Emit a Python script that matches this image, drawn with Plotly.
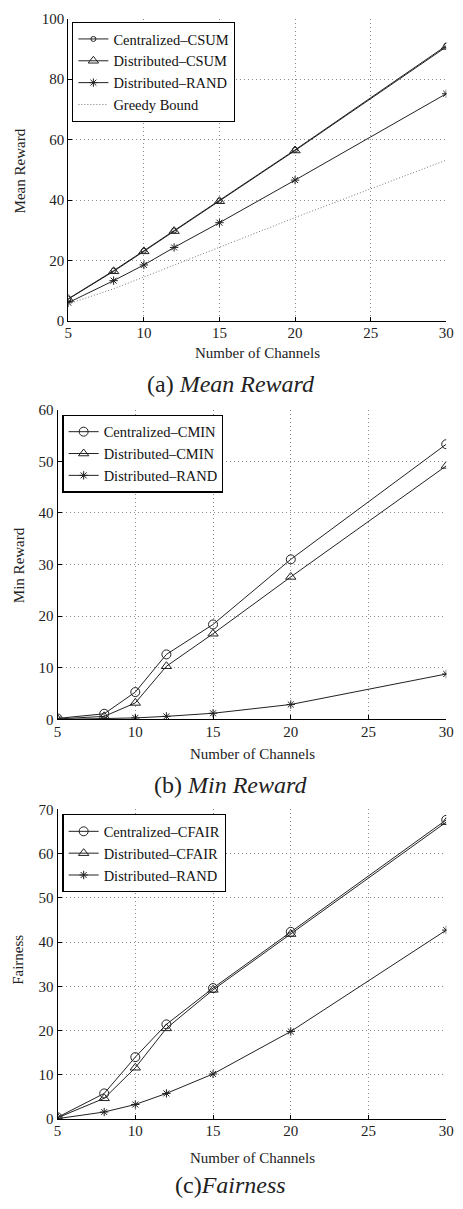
import plotly.graph_objects as go

W, H = 463, 1209

channels = [5, 8, 10, 12, 15, 20, 30]

# (a) Mean reward
mean_central_csum = [7.3, 16.6, 23.2, 29.9, 39.8, 56.6, 91.1]
mean_dist_csum = [7.2, 16.4, 23.0, 29.7, 39.6, 56.4, 90.7]
mean_dist_rand = [6.0, 13.3, 18.5, 24.3, 32.5, 46.6, 75.2]
mean_greedy = [5.6, 10.6, 14.5, 18.4, 24.2, 34.2, 53.2]

# (b) Min reward
min_central_cmin = [0.2, 1.1, 5.3, 12.6, 18.4, 31.0, 53.3]
min_dist_cmin = [0.1, 0.6, 3.2, 10.3, 16.6, 27.6, 49.1]
min_dist_rand = [0.0, 0.1, 0.3, 0.6, 1.2, 2.9, 8.8]

# (c) Fairness
fair_central_cfair = [0.4, 5.8, 14.0, 21.4, 29.6, 42.3, 67.6]
fair_dist_cfair = [0.3, 4.7, 11.6, 20.5, 29.2, 41.8, 67.1]
fair_dist_rand = [0.1, 1.6, 3.3, 5.8, 10.2, 19.8, 42.7]

x_ticks = [5, 10, 15, 20, 25, 30]
FONT = "Liberation Serif, Times New Roman, serif"
LC = "#222222"
GRID_DASH = "1px,3px"

def py(p):
    return 1 - p / H

def px(p):
    return p / W

fig = go.Figure()

def add(x, y, name, symbol, size, xa, ya, legend, dash="solid", color=LC, mode="lines+markers"):
    fig.add_trace(go.Scatter(
        x=x, y=y, name=name, mode=mode, xaxis=xa, yaxis=ya, legend=legend,
        line=dict(color=color, width=1, dash=dash),
        marker=dict(symbol=symbol, size=size, color=color,
                    line=dict(color=color, width=1)),
    ))

add(channels, mean_central_csum, "Centralized\u2013CSUM", "circle-open", 5, "x", "y", "legend")
add(channels, mean_dist_csum, "Distributed\u2013CSUM", "triangle-up-open", 9, "x", "y", "legend")
add(channels, mean_dist_rand, "Distributed\u2013RAND", "asterisk-open", 7, "x", "y", "legend")
add(channels, mean_greedy, "Greedy Bound", "circle", 1, "x", "y", "legend", dash="1px,2px", color="#777777", mode="lines")

add(channels, min_central_cmin, "Centralized\u2013CMIN", "circle-open", 9, "x2", "y2", "legend2")
add(channels, min_dist_cmin, "Distributed\u2013CMIN", "triangle-up-open", 9, "x2", "y2", "legend2")
add(channels, min_dist_rand, "Distributed\u2013RAND", "asterisk-open", 7, "x2", "y2", "legend2")

add(channels, fair_central_cfair, "Centralized\u2013CFAIR", "circle-open", 9, "x3", "y3", "legend3")
add(channels, fair_dist_cfair, "Distributed\u2013CFAIR", "triangle-up-open", 9, "x3", "y3", "legend3")
add(channels, fair_dist_rand, "Distributed\u2013RAND", "asterisk-open", 7, "x3", "y3", "legend3")

def xaxis(left, anchor):
    return dict(domain=[px(left), px(454)], anchor=anchor, range=[5, 30],
                tickvals=x_ticks, showgrid=True, gridcolor="#8a8a8a", griddash=GRID_DASH,
                gridwidth=1, showline=True, linecolor="black", linewidth=1.2,
                ticks="inside", ticklen=4, tickcolor="black", zeroline=False,
                ticklabelstandoff=-2,
                tickfont=dict(family=FONT, size=15, color="#222"))

def yaxis(top, bottom, anchor, rng, dtick):
    return dict(domain=[py(bottom), py(top)], anchor=anchor, range=rng, dtick=dtick,
                showgrid=True, gridcolor="#8a8a8a", griddash=GRID_DASH, gridwidth=1,
                showline=True, linecolor="black", linewidth=1.2,
                ticks="inside", ticklen=4, tickcolor="black", zeroline=False,
                tickfont=dict(family=FONT, size=15, color="#222"))

def legend(x0, y0):
    return dict(x=px(x0), y=py(y0), xref="paper", yref="paper", xanchor="left", yanchor="top",
                bgcolor="white", bordercolor="black", borderwidth=1.2,
                font=dict(family=FONT, size=14.5, color="#111"), tracegroupgap=0,
                itemwidth=30)

fig.update_layout(
    width=W, height=H, margin=dict(l=0, r=0, t=0, b=0),
    paper_bgcolor="white", plot_bgcolor="white", showlegend=True,
    font=dict(family=FONT, color="#222"),
    xaxis=xaxis(66, "y"),
    yaxis=yaxis(11, 317, "x", [0, 100], 20),
    xaxis2=xaxis(55, "y2"),
    yaxis2=yaxis(407, 721, "x2", [0, 60], 10),
    xaxis3=xaxis(55, "y3"),
    yaxis3=yaxis(812, 1126, "x3", [0, 70], 10),
    legend=legend(70, 14),
    legend2=legend(60, 412),
    legend3=legend(60, 817),
)

def ann(text, x, y, size, angle=0):
    fig.add_annotation(text=text, x=px(x), y=py(y), xref="paper", yref="paper",
                       showarrow=False, textangle=angle, xanchor="center", yanchor="middle",
                       font=dict(family=FONT, size=size, color="#222"))

ann("Number of Channels", 260, 350, 15)
ann("Mean Reward", 16, 165, 15, -90)
ann("(a) <i>Mean Reward</i>", 233, 381, 24)

ann("Number of Channels", 255, 756, 15)
ann("Min Reward", 15, 565, 15, -90)
ann("(b) <i>Min Reward</i>", 233, 787, 24)

ann("Number of Channels", 255, 1165, 15)
ann("Fairness", 15, 965, 15, -90)
ann("(c)<i>Fairness</i>", 233, 1193, 24)

fig.write_html("out.html")
